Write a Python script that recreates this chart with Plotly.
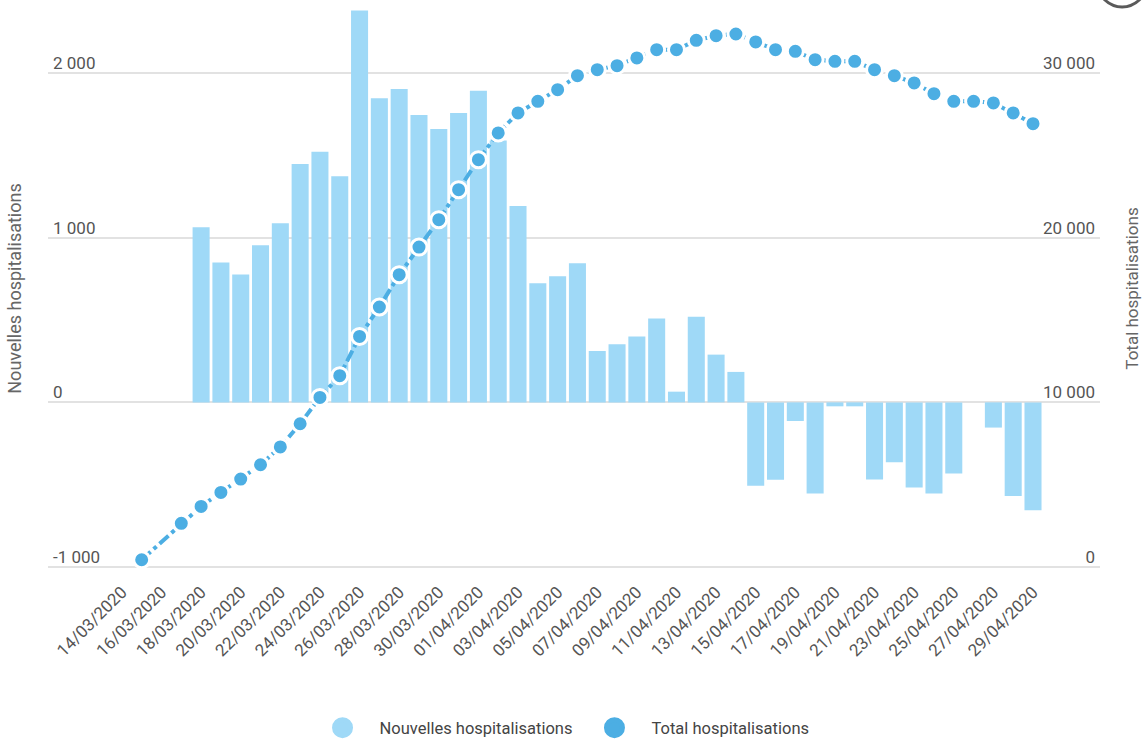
import plotly.graph_objects as go

# ---------------- data ----------------
bar_dates = [
    "2020-03-18", "2020-03-19", "2020-03-20", "2020-03-21", "2020-03-22", "2020-03-23",
    "2020-03-24", "2020-03-25", "2020-03-26", "2020-03-27", "2020-03-28", "2020-03-29",
    "2020-03-30", "2020-03-31", "2020-04-01", "2020-04-02", "2020-04-03", "2020-04-04",
    "2020-04-05", "2020-04-06", "2020-04-07", "2020-04-08", "2020-04-09", "2020-04-10",
    "2020-04-11", "2020-04-12", "2020-04-13", "2020-04-14", "2020-04-15", "2020-04-16",
    "2020-04-17", "2020-04-18", "2020-04-19", "2020-04-20", "2020-04-21", "2020-04-22",
    "2020-04-23", "2020-04-24", "2020-04-25", "2020-04-26", "2020-04-27", "2020-04-28",
    "2020-04-29",
]
nouvelles = [
    1064, 850, 777, 954, 1088, 1447,
    1522, 1373, 2379, 1846, 1903, 1745,
    1660, 1757, 1893, 1590, 1193, 723,
    766, 845, 312, 353, 400, 510,
    65, 520, 290, 185, -506, -470,
    -113, -553, -24, -24, -468, -363,
    -517, -553, -432, 0, -153, -569,
    -655,
]

total_dates = ["2020-03-15", "2020-03-17"] + bar_dates
total = [
    440, 2650,
    3680, 4530, 5340, 6210, 7290, 8700,
    10300, 11620, 14000, 15790, 17750, 19430,
    21090, 22915, 24737, 26360, 27573, 28280,
    28990, 29840, 30200, 30447, 30915, 31418,
    31418, 31983, 32268, 32370, 31886, 31418,
    31316, 30811, 30710, 30710, 30200, 29840,
    29395, 28745, 28280, 28280, 28180, 27573,
    26923,
]

x_tick_dates = [
    "2020-03-14", "2020-03-16", "2020-03-18", "2020-03-20", "2020-03-22", "2020-03-24",
    "2020-03-26", "2020-03-28", "2020-03-30", "2020-04-01", "2020-04-03", "2020-04-05",
    "2020-04-07", "2020-04-09", "2020-04-11", "2020-04-13", "2020-04-15", "2020-04-17",
    "2020-04-19", "2020-04-21", "2020-04-23", "2020-04-25", "2020-04-27", "2020-04-29",
]
x_tick_labels = [d[8:10] + "/" + d[5:7] + "/" + d[0:4] for d in x_tick_dates]

left_ticks = [-1000, 0, 1000, 2000]
left_tick_labels = ["-1 000", "0", "1 000", "2 000"]
right_ticks = [0, 10000, 20000, 30000]
right_tick_labels = ["0", "10 000", "20 000", "30 000"]

name_new = "Nouvelles hospitalisations"
name_total = "Total hospitalisations"

# ---------------- style ----------------
BAR_COLOR = "#9fd9f7"
LINE_COLOR = "#4caee3"
DAY_MS = 86400000

fig = go.Figure()

fig.add_trace(go.Bar(
    x=bar_dates, y=nouvelles, name=name_new,
    marker=dict(color=BAR_COLOR, line=dict(width=0)),
    width=0.86 * DAY_MS, yaxis="y", showlegend=False,
))

fig.add_trace(go.Scatter(
    x=total_dates, y=total, name=name_total, yaxis="y2",
    mode="lines+markers",
    line=dict(color=LINE_COLOR, width=4, dash="dashdot"),
    marker=dict(size=16, color=LINE_COLOR, line=dict(color="white", width=3)),
    showlegend=False,
))

# legend entries (large circles, as in the reference)
fig.add_trace(go.Scatter(
    x=[None], y=[None], mode="markers", name=name_new,
    marker=dict(size=16, color=BAR_COLOR, line=dict(color=BAR_COLOR, width=5)),
))
fig.add_trace(go.Scatter(
    x=[None], y=[None], mode="markers", name=name_total,
    marker=dict(size=16, color=LINE_COLOR, line=dict(color=LINE_COLOR, width=5)),
))

fig.update_layout(
    width=1143, height=742,
    margin=dict(l=48, r=43, t=5, b=170),
    plot_bgcolor="white", paper_bgcolor="white",
    font=dict(family="Roboto, Arial, sans-serif", size=17, color="#666666"),
    legend=dict(
        orientation="h", x=0.2448, xanchor="left",
        yref="container", y=0.019, yanchor="middle",
        font=dict(size=16.5, color="#444444"),
        itemsizing="trace", itemclick=False, itemwidth=64,
    ),
    xaxis=dict(
        type="date", automargin=False,
        range=["2020-03-10 06:29", "2020-05-02 09:11"],
        tickmode="array", tickvals=x_tick_dates, ticktext=x_tick_labels,
        tickangle=-45, showgrid=False, zeroline=False, showline=False,
        ticks="", ticklabelstandoff=6,
        tickfont=dict(size=17, color="#555555"),
    ),
    yaxis=dict(
        range=[-1030, 2413], automargin=False,
        tickmode="array", tickvals=left_ticks, ticktext=left_tick_labels,
        showgrid=True, gridcolor="#e2e2e2", gridwidth=1.5,
        zeroline=False, showline=False, ticks="",
        ticklabelposition="inside", ticklabelshift=-10, ticklabelstandoff=2,
        tickfont=dict(size=17, color="#555555"),
        title=dict(text=name_new, standoff=26,
                   font=dict(size=18, color="#666666")),
    ),
    yaxis2=dict(
        range=[-304, 34130], overlaying="y", side="right", automargin=False,
        tickmode="array", tickvals=right_ticks, ticktext=right_tick_labels,
        showgrid=False, zeroline=False, showline=False, ticks="",
        ticklabelposition="inside", ticklabelshift=-10, ticklabelstandoff=2,
        tickfont=dict(size=17, color="#555555"),
        title=dict(text=name_total, standoff=32,
                   font=dict(size=17, color="#666666")),
    ),
    shapes=[dict(
        type="circle", xref="paper", yref="paper",
        x0=0.998, x1=1.044, y0=0.9965, y1=1.08,
        line=dict(color="#5a5a5a", width=3), layer="above",
    )],
)

fig.write_html(
    "out.html",
    config={"displayModeBar": False},
    post_script="document.body.style.margin='0';document.body.style.padding='0';",
)
